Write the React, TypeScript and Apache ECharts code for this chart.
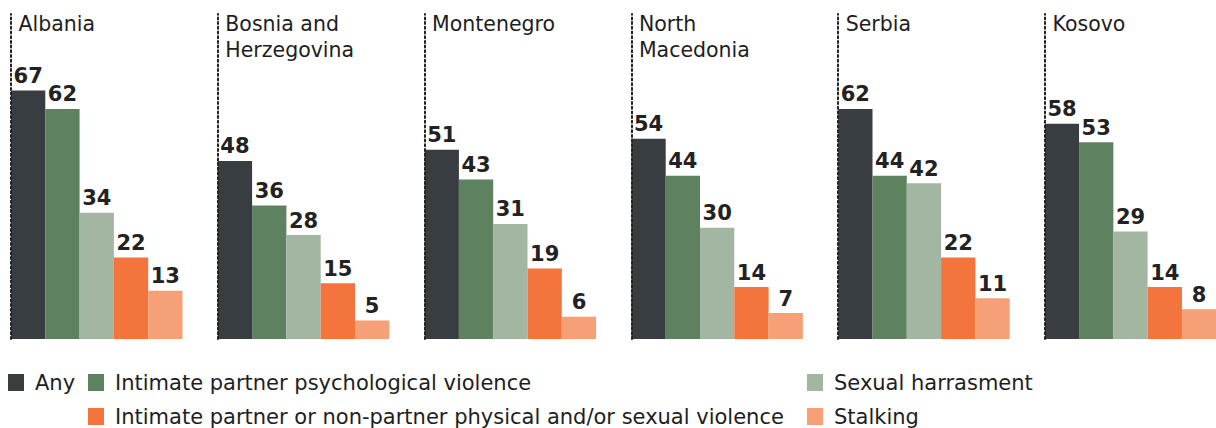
import React, { useEffect, useRef } from "react";
import * as echarts from "echarts";

const countries = ["Albania", "Bosnia and\nHerzegovina", "Montenegro", "North\nMacedonia", "Serbia", "Kosovo"];
const seriesNames = [
  "Any",
  "Intimate partner psychological violence",
  "Sexual harrasment",
  "Intimate partner or non-partner physical and/or sexual violence",
  "Stalking",
];
const anyValues = [67, 48, 51, 54, 62, 58];
const psychValues = [62, 36, 43, 44, 44, 53];
const sexualValues = [34, 28, 31, 30, 42, 29];
const physicalValues = [22, 15, 19, 14, 22, 14];
const stalkingValues = [13, 5, 6, 7, 11, 8];
const colors = ["#383d41", "#5e8160", "#a3b6a2", "#f3743c", "#f6a077"];

const FONT = "DejaVu Sans";

export default function App() {
  const ref = useRef<HTMLDivElement>(null);
  useEffect(() => {
    if (!ref.current) return;
    const chart = echarts.init(ref.current, undefined, { renderer: "svg" });
    const valueSets = [anyValues, psychValues, sexualValues, physicalValues, stalkingValues];
    const panelStep = 206.8;
    const firstLeft = 11;
    const barW = 34.3;
    const grids: any[] = [];
    const xAxes: any[] = [];
    const yAxes: any[] = [];
    const titles: any[] = [];
    const series: any[] = [];
    countries.forEach((c, i) => {
      const left = firstLeft + i * panelStep;
      grids.push({ left, top: 14, width: barW * 5, height: 325 });
      xAxes.push({
        type: "category",
        gridIndex: i,
        data: [c],
        show: false,
      });
      yAxes.push({
        type: "value",
        gridIndex: i,
        min: 0,
        max: 87.6,
        z: 10,
        axisLine: { show: true, lineStyle: { type: [2, 2.7], width: 2, color: "#222" } },
        axisTick: { show: false },
        axisLabel: { show: false },
        splitLine: { show: false },
      });
      titles.push({
        text: c,
        left: left + 7.5,
        top: 11,
        padding: 0,
        textStyle: { fontFamily: FONT, fontSize: 20.5, fontWeight: "normal", color: "#1e1e1e", lineHeight: 26 },
      });
      seriesNames.forEach((name, k) => {
        series.push({
          type: "bar",
          name,
          xAxisIndex: i,
          yAxisIndex: i,
          barWidth: barW,
          barGap: "0%",
          barCategoryGap: 0,
          itemStyle: { color: colors[k] },
          label: {
            show: true,
            position: "top",
            distance: 4,
            fontFamily: FONT,
            fontSize: 21,
            fontWeight: "bold",
            color: "#222",
          },
          data: [valueSets[k][i]],
        });
      });
    });
    const legendCommon = {
      orient: "horizontal",
      icon: "rect",
      itemWidth: 16,
      itemHeight: 17,
      padding: 0,
      selectedMode: false,
      textStyle: { fontFamily: FONT, fontSize: 21, lineHeight: 17, color: "#1e1e1e", padding: [0, 0, 0, 6] },
    };
    const legendPos = [
      { left: 8, top: 372 },
      { left: 88, top: 372 },
      { left: 807, top: 372 },
      { left: 88, top: 406 },
      { left: 807, top: 406 },
    ];
    chart.setOption({
      animation: false,
      title: titles,
      grid: grids,
      xAxis: xAxes,
      yAxis: yAxes,
      legend: seriesNames.map((n, k) => ({ ...legendCommon, data: [n], ...legendPos[k] })),
      series,
    });
    return () => chart.dispose();
  }, []);
  return <div ref={ref} style={{ position: "absolute", left: 0, top: 0, width: 1216, height: 428 }} />;
}
